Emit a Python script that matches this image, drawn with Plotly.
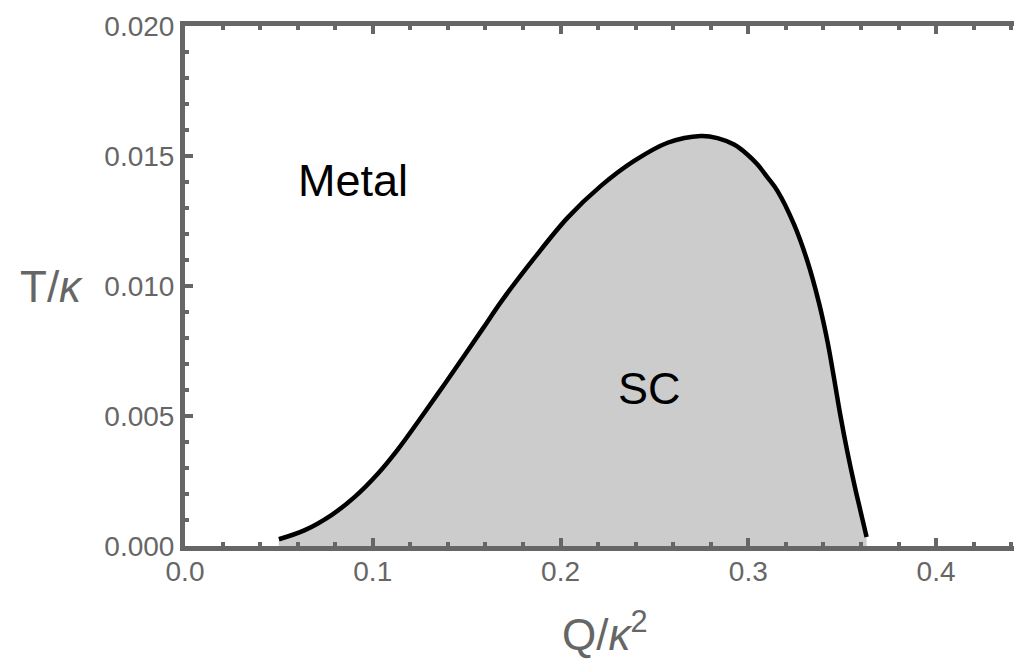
import plotly.graph_objects as go

# Phase boundary T_c/kappa vs Q/kappa^2
q_vals = [0.050, 0.0638, 0.078, 0.0904, 0.1028, 0.1134, 0.1241, 0.1347, 0.1453, 0.1586,
          0.1684, 0.1861, 0.2038, 0.2215, 0.2392, 0.2570, 0.2747, 0.2836, 0.2924, 0.2995,
          0.3048, 0.3102, 0.3155, 0.3243, 0.3314, 0.3376, 0.3421, 0.3456, 0.3491, 0.3527,
          0.3567, 0.3598, 0.3630]
t_vals = [0.00026, 0.00061, 0.00119, 0.00189, 0.00279, 0.00372, 0.00478, 0.00586, 0.00696, 0.00836,
          0.00940, 0.01108, 0.01263, 0.01385, 0.01481, 0.01551, 0.01577, 0.01569, 0.01544, 0.01506,
          0.01468, 0.01418, 0.01366, 0.01238, 0.01097, 0.00936, 0.00789, 0.00648, 0.00500, 0.00364,
          0.00229, 0.00133, 0.00035]

x_ticks = [0.0, 0.1, 0.2, 0.3, 0.4]
y_ticks = [0.000, 0.005, 0.010, 0.015, 0.020]

labels = ["Metal", "SC"]
label_x = [0.0897, 0.2473]
label_y = [0.01404, 0.00606]

AX = "#666666"
FONT = "Liberation Sans, Arial, sans-serif"

fig = go.Figure()
fig.add_trace(go.Scatter(
    x=q_vals, y=t_vals, mode="lines",
    line=dict(color="black", width=4.5, shape="spline", smoothing=1.0),
    fill="tozeroy", fillcolor="#cccccc", showlegend=False, hoverinfo="skip"))

for txt, lx, ly in zip(labels, label_x, label_y):
    fig.add_annotation(x=lx, y=ly, xref="x", yref="y", text=txt, showarrow=False,
                       font=dict(family=FONT, size=45, color="black"))

fig.add_annotation(x=-0.202, y=0.5, xref="paper", yref="paper", text="T/<i>κ</i>",
                   showarrow=False, font=dict(family=FONT, size=44, color=AX))
fig.add_annotation(x=0.5066, y=-0.222, xref="paper", yref="paper", text="Q/<i>κ</i><sup>2</sup>",
                   showarrow=False, font=dict(family=FONT, size=44, color=AX))

axis_common = dict(showline=True, linecolor=AX, linewidth=5, ticks="inside",
                   ticklen=8, tickwidth=3.5, tickcolor=AX, showgrid=False, zeroline=False,
                   tickfont=dict(family=FONT, size=28, color=AX))

fig.update_xaxes(range=[0, 0.4415], tickvals=x_ticks, ticktext=[f"{v:.1f}" for v in x_ticks],
                 mirror="allticks", ticklabelstandoff=-4,
                 minor=dict(dtick=0.02, tick0=0, ticks="inside", ticklen=4, tickwidth=3.5,
                            tickcolor=AX, showgrid=False),
                 **axis_common)
fig.update_yaxes(range=[0, 0.02], tickvals=y_ticks, ticktext=[f"{v:.3f}" for v in y_ticks],
                 mirror=False,
                 minor=dict(dtick=0.001, tick0=0, ticks="inside", ticklen=4, tickwidth=3.5,
                            tickcolor=AX, showgrid=False),
                 **axis_common)

fig.update_layout(width=1014, height=663, margin=dict(l=185, r=0, t=26, b=117),
                  plot_bgcolor="white", paper_bgcolor="white")

fig.write_html("out.html")
